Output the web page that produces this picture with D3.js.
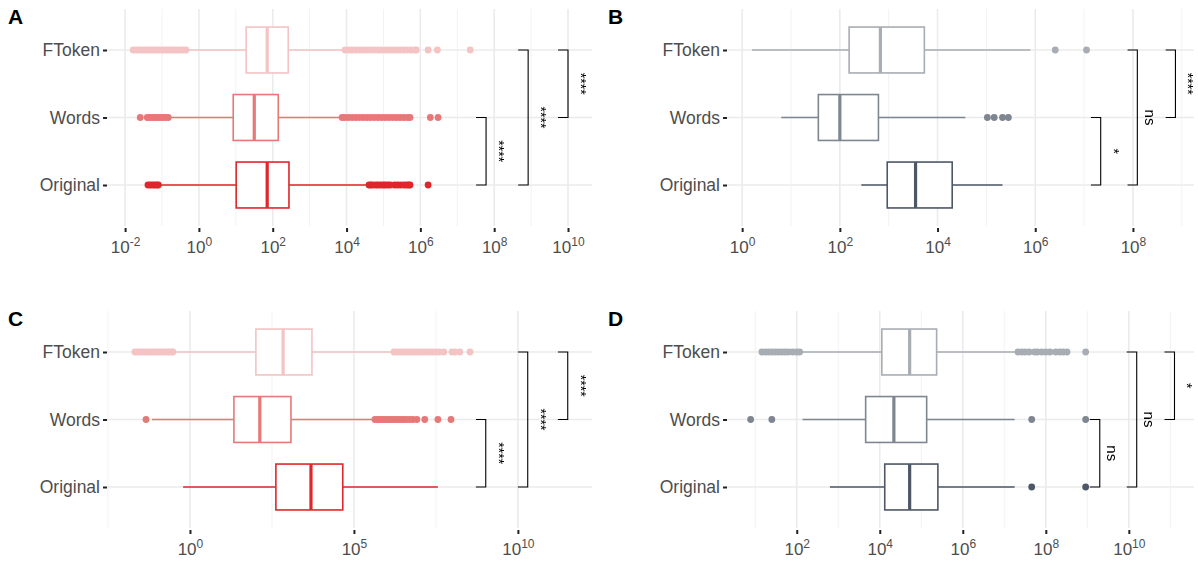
<!DOCTYPE html>
<html>
<head>
<meta charset="utf-8">
<script src="https://cdn.jsdelivr.net/npm/d3@7"></script>
<style>
  body { margin: 0; background: #fff; }
  svg { display: block; font-family: "Liberation Sans", Arial, sans-serif; }
</style>
</head>
<body>
<div id="chart"></div>
<script>
// all values are log10 units
const categories = ["FToken", "Words", "Original"];
const pairs = [["Words", "Original"], ["FToken", "Original"], ["FToken", "Words"]];

// [whisker low, q1, median, q3, whisker high]
const aBoxes = [[-0.29, 1.28, 1.85, 2.42, 3.96], [-0.83, 0.93, 1.5, 2.15, 3.88], [-1.1, 1.01, 1.85, 2.44, 4.61]];
const aOutliers = [
  [-1.78, -1.7, -1.62, -1.55, -1.48, -1.4, -1.32, -1.25, -1.18, -1.1, -1.02, -0.95, -0.88, -0.8, -0.72, -0.65, -0.58, -0.5, -0.42, -0.35,
   3.96, 4.05, 4.15, 4.25, 4.35, 4.45, 4.55, 4.65, 4.75, 4.85, 4.95, 5.05, 5.15, 5.25, 5.35, 5.45, 5.55, 5.65, 5.75, 5.85, 5.89, 6.21, 6.46, 7.35],
  [-1.59, -1.4, -1.33, -1.26, -1.19, -1.12, -1.05, -0.98, -0.91, -0.83,
   3.88, 3.95, 4.05, 4.15, 4.25, 4.35, 4.45, 4.55, 4.65, 4.75, 4.85, 4.95, 5.05, 5.15, 5.25, 5.35, 5.45, 5.55, 5.65, 5.72, 6.27, 6.48],
  [-1.38, -1.32, -1.26, -1.2, -1.14, -1.1,
   4.61, 4.66, 4.72, 4.8, 4.86, 4.93, 5.0, 5.05, 5.12, 5.18, 5.3, 5.38, 5.46, 5.55, 5.62, 5.68, 5.72, 6.21]
];
const aSignif = ["****", "****", "****"];
const aBracketAt = [7.78, 8.92, 10.0];

const bBoxes = [[0.2, 2.19, 2.83, 3.73, 5.9], [0.8, 1.56, 2.0, 2.79, 4.57], [2.44, 2.97, 3.55, 4.3, 5.33]];
const bOutliers = [[6.41, 7.05], [5.02, 5.16, 5.33, 5.45], []];
const bSignif = ["*", "ns", "****"];
const bBracketAt = [7.34, 8.09, 8.87];

const cBoxes = [[-0.52, 2.01, 2.84, 3.72, 6.22], [-1.16, 1.34, 2.13, 3.08, 5.64], [-0.21, 2.62, 3.69, 4.66, 7.56]];
const cOutliers = [
  [-1.68, -1.6, -1.52, -1.44, -1.36, -1.28, -1.2, -1.12, -1.04, -0.96, -0.88, -0.8, -0.72, -0.64, -0.56, -0.52,
   6.22, 6.3, 6.4, 6.5, 6.6, 6.7, 6.8, 6.9, 7.0, 7.1, 7.2, 7.3, 7.4, 7.5, 7.6, 7.74, 7.99, 8.08, 8.23, 8.54],
  [-1.34,
   5.64, 5.72, 5.8, 5.88, 5.96, 6.04, 6.12, 6.2, 6.28, 6.36, 6.44, 6.52, 6.6, 6.7, 6.8, 6.92, 7.16, 7.56, 7.96],
  []
];
const cSignif = ["****", "****", "****"];
const cBracketAt = [9.02, 10.3, 11.52];

const dBoxes = [[2.07, 4.05, 4.72, 5.37, 7.33], [2.14, 3.66, 4.34, 5.13, 7.25], [2.8, 4.12, 4.72, 5.4, 7.25]];
const dOutliers = [
  [1.16, 1.24, 1.32, 1.4, 1.48, 1.56, 1.64, 1.72, 1.8, 1.9, 2.0, 2.07,
   7.33, 7.42, 7.5, 7.6, 7.73, 7.8, 7.9, 8.0, 8.1, 8.24, 8.34, 8.42, 8.51, 8.96],
  [0.89, 1.4, 7.66, 8.96],
  [7.66, 8.96]
];
const dSignif = ["ns", "ns", "*"];
const dBracketAt = [9.3, 10.19, 11.1];

const aTicks = [-2, 0, 2, 4, 6, 8, 10];
const bTicks = [0, 2, 4, 6, 8];
const cTicks = [0, 5, 10];
const dTicks = [2, 4, 6, 8, 10];

const redColors = ["#F4C3C3", "#E87878", "#E0262A"];
const greyColors = ["#A8ADB3", "#7E8692", "#4D5766"];

const width = 1198, height = 562;
const svg = d3.select("#chart").append("svg").attr("width", width).attr("height", height);

const panels = [
  { tag: "A", left: 107, right: 592, top: 9, domain: [-2.49, 10.65], ticks: aTicks, boxes: aBoxes, outliers: aOutliers, signif: aSignif, at: aBracketAt, tip: 0.27, colors: redColors },
  { tag: "B", left: 727, right: 1194, top: 9, domain: [-0.31, 9.25], ticks: bTicks, boxes: bBoxes, outliers: bOutliers, signif: bSignif, at: bBracketAt, tip: 0.2, colors: greyColors },
  { tag: "C", left: 107, right: 592, top: 311, domain: [-2.53, 12.26], ticks: cTicks, boxes: cBoxes, outliers: cOutliers, signif: cSignif, at: cBracketAt, tip: 0.3, colors: redColors },
  { tag: "D", left: 727, right: 1194, top: 311, domain: [0.32, 11.57], ticks: dTicks, boxes: dBoxes, outliers: dOutliers, signif: dSignif, at: dBracketAt, tip: 0.24, colors: greyColors }
];

panels.forEach(drawPanel);

function drawPanel(p) {
  const h = 217;
  const g = svg.append("g");
  const x = d3.scaleLinear().domain(p.domain).range([p.left, p.right]);
  const y = d3.scalePoint().domain(categories).range([p.top + 41, p.top + h - 41]);
  const step = y.step();

  // minor grid half way between major ticks
  const gap = p.ticks[1] - p.ticks[0];
  const minor = [];
  for (let t = p.ticks[0] - gap / 2; t <= p.domain[1]; t += gap) {
    if (t >= p.domain[0]) minor.push(t);
  }
  g.selectAll(".minor").data(minor).enter().append("line")
    .attr("x1", (d) => x(d)).attr("x2", (d) => x(d))
    .attr("y1", p.top).attr("y2", p.top + h)
    .style("stroke", "#F2F2F2").style("stroke-width", "1px");
  g.selectAll(".major").data(p.ticks).enter().append("line")
    .attr("x1", (d) => x(d)).attr("x2", (d) => x(d))
    .attr("y1", p.top).attr("y2", p.top + h)
    .style("stroke", "#EBEBEB").style("stroke-width", "1.6px");
  g.selectAll(".hgrid").data(categories).enter().append("line")
    .attr("x1", p.left).attr("x2", p.right)
    .attr("y1", (d) => y(d)).attr("y2", (d) => y(d))
    .style("stroke", "#EBEBEB").style("stroke-width", "1.6px");

  // boxes
  const boxH = step * 0.68;
  categories.forEach((cat, i) => {
    const s = p.boxes[i];
    const col = p.colors[i];
    const cy = y(cat);
    g.append("line")
      .attr("x1", x(s[0])).attr("x2", x(s[4]))
      .attr("y1", cy).attr("y2", cy)
      .style("stroke", col).style("stroke-width", "1.6px");
    g.append("rect")
      .attr("x", x(s[1])).attr("y", cy - boxH / 2)
      .attr("width", x(s[3]) - x(s[1])).attr("height", boxH)
      .style("fill", "#fff").style("stroke", col).style("stroke-width", "1.6px");
    g.append("line")
      .attr("x1", x(s[2])).attr("x2", x(s[2]))
      .attr("y1", cy - boxH / 2).attr("y2", cy + boxH / 2)
      .style("stroke", col).style("stroke-width", "3.2px");
    g.selectAll(null).data(p.outliers[i]).enter().append("circle")
      .attr("cx", (d) => x(d)).attr("cy", cy).attr("r", 3.4)
      .style("fill", col);
  });

  // significance brackets
  pairs.forEach((pr, i) => {
    const xb = x(p.at[i]);
    const xt = x(p.at[i] - p.tip);
    const y1 = y(pr[0]), y2 = y(pr[1]);
    g.append("path")
      .attr("d", `M${xt},${y1}H${xb}V${y2}H${xt}`)
      .style("fill", "none").style("stroke", "#000").style("stroke-width", "1.1px");
    g.append("text")
      .attr("transform", `translate(${xb + 13},${(y1 + y2) / 2}) rotate(90)`)
      .attr("text-anchor", "middle")
      .attr("dominant-baseline", "central")
      .style("font-size", p.signif[i] === "ns" ? "15px" : "14px")
      .style("fill", "#000")
      .style("filter", "grayscale(100%)")
      .text(p.signif[i]);
  });

  // axes
  const xAxis = g.append("g")
    .attr("transform", `translate(0,${p.top + h + 2})`)
    .call(d3.axisBottom(x).tickValues(p.ticks).tickSize(4).tickPadding(4).tickFormat(""));
  xAxis.select(".domain").remove();
  xAxis.selectAll(".tick line").style("stroke", "#222").style("stroke-width", "2px");
  xAxis.selectAll(".tick text").each(function (d) {
    const t = d3.select(this).attr("y", 13).style("font-size", "17px").style("fill", "#4D4D4D");
    t.append("tspan").text("10");
    t.append("tspan").attr("dy", -7).style("font-size", "12px").text(d);
  });

  const yAxis = g.append("g")
    .attr("transform", `translate(${p.left},0)`)
    .call(d3.axisLeft(y).tickSize(4).tickPadding(3));
  yAxis.select(".domain").remove();
  yAxis.selectAll(".tick line").style("stroke", "#222").style("stroke-width", "2px");
  yAxis.selectAll(".tick text").style("font-size", "17.5px").style("fill", "#4D4D4D");

  svg.append("text")
    .attr("x", p.tag === "A" || p.tag === "C" ? 8 : 608)
    .attr("y", p.top + 15)
    .style("font-size", "21px").style("font-weight", "bold").style("fill", "#000")
    .text(p.tag);
}
</script>
</body>
</html>
